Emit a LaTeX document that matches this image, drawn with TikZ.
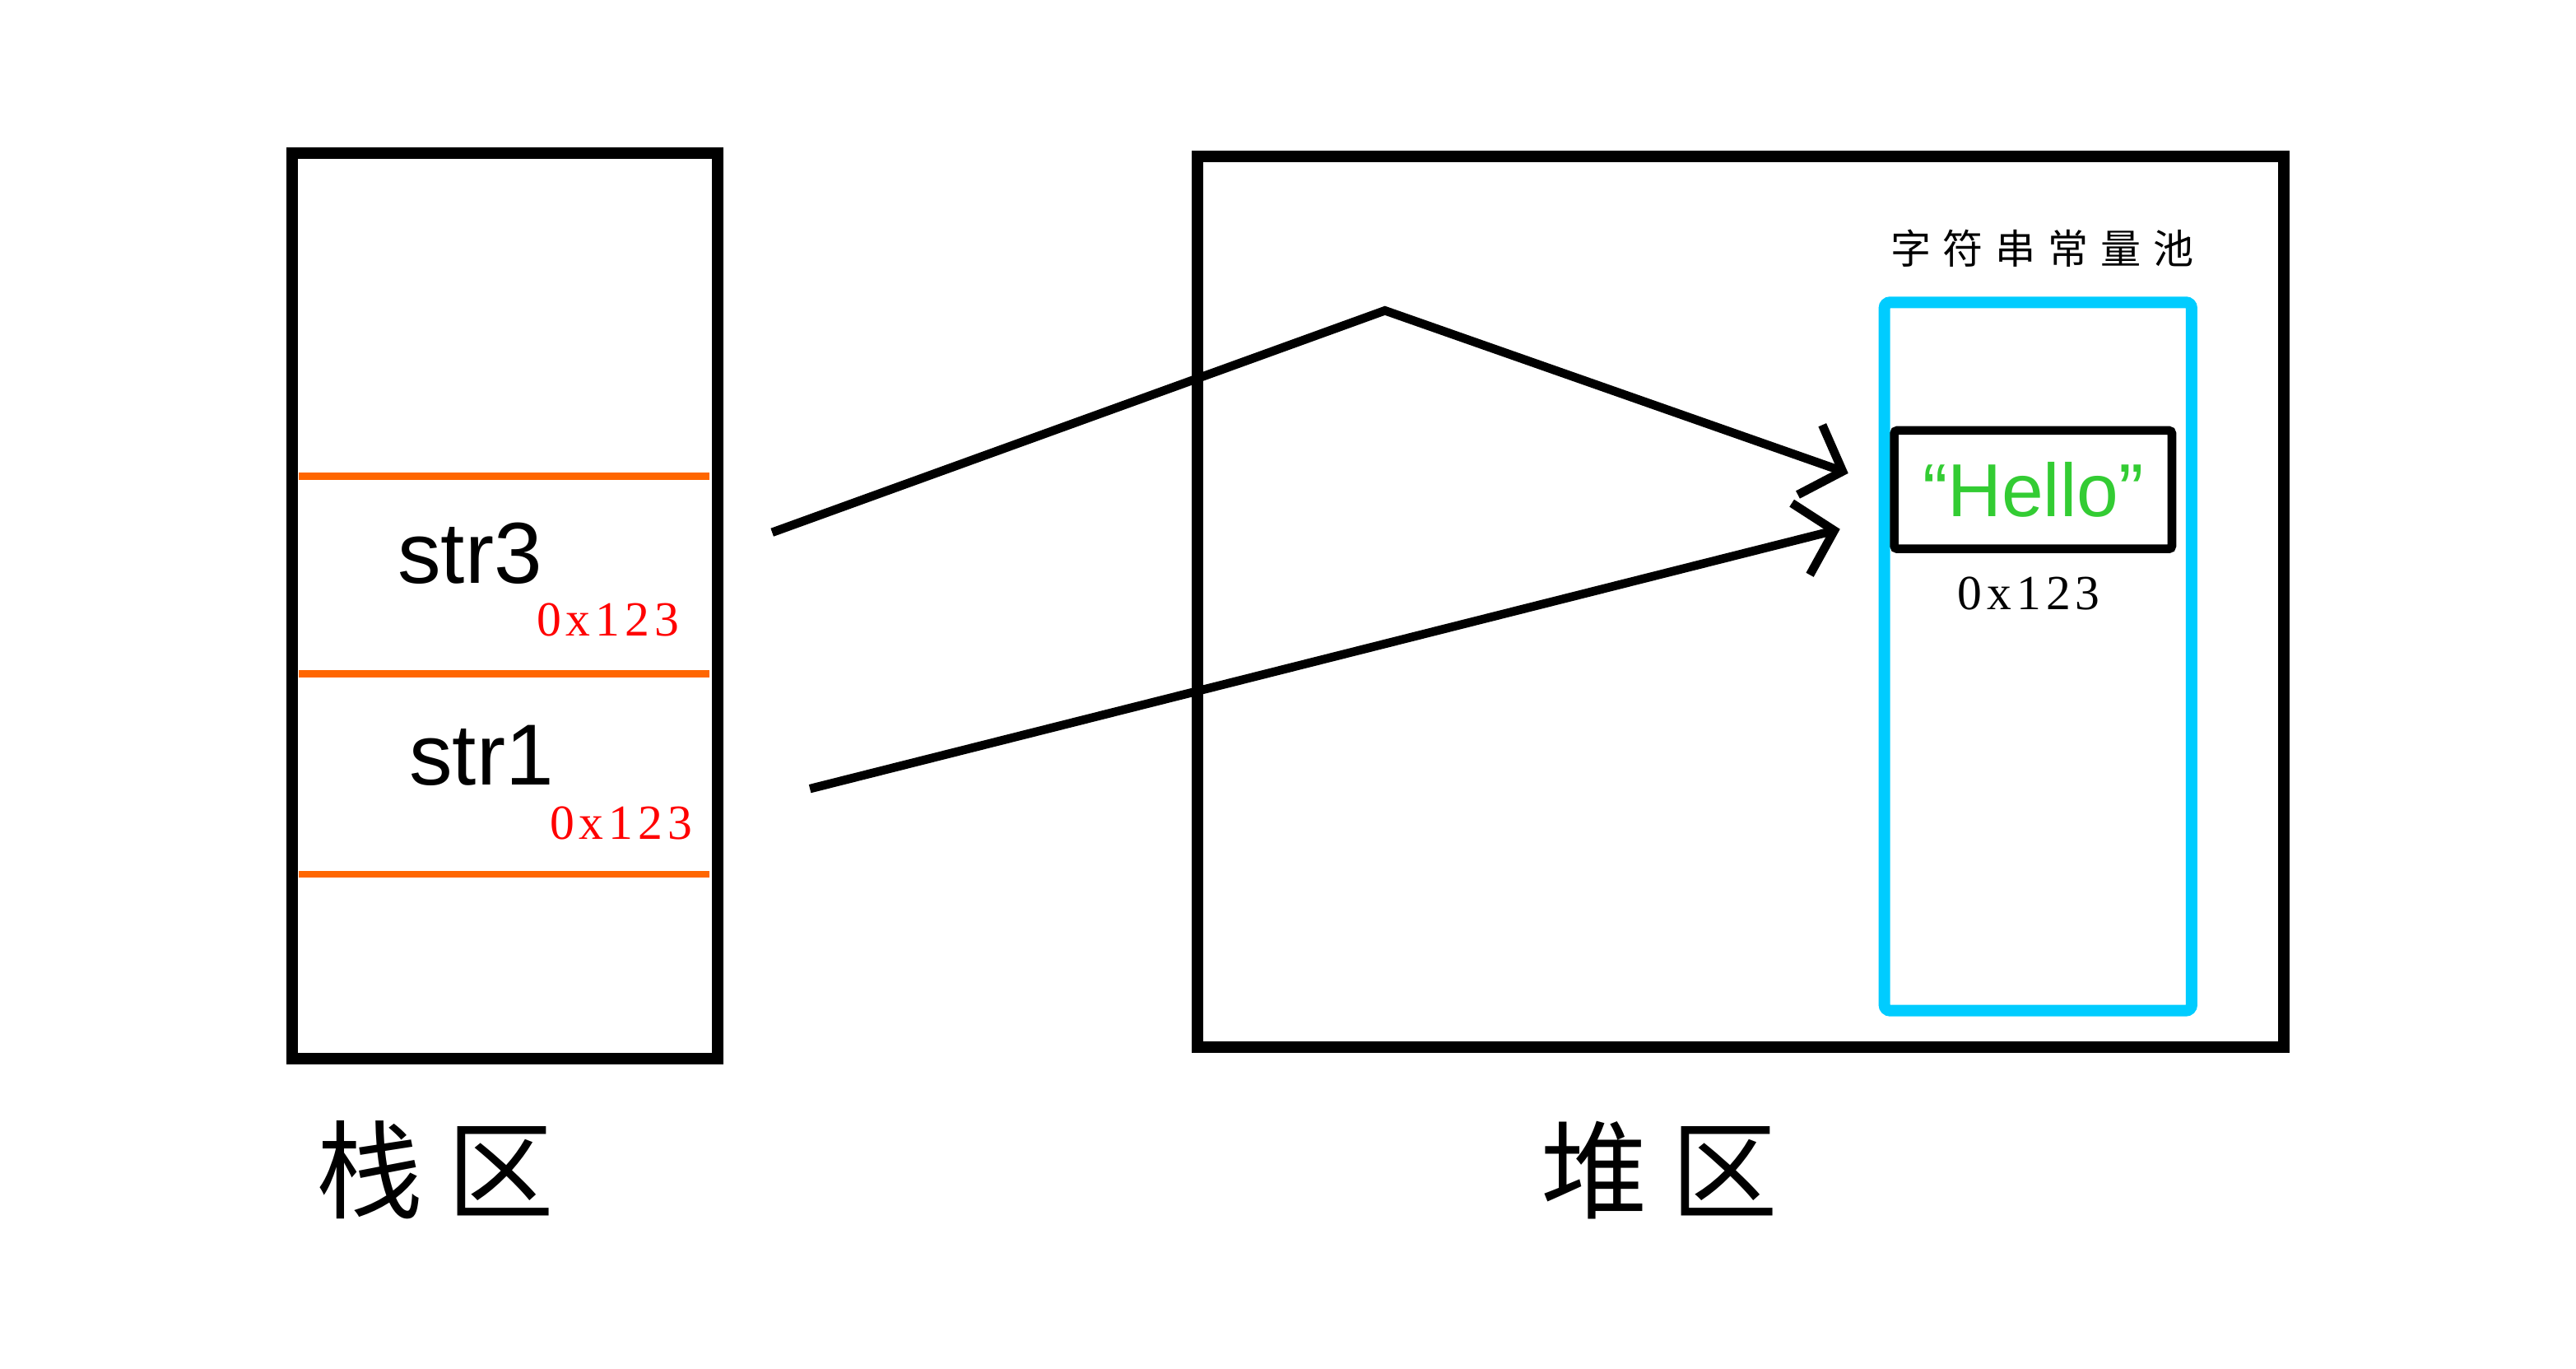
\documentclass[tikz,border=0pt]{standalone}
\usepackage{fontspec}
\setmainfont{Liberation Sans}
\newfontfamily\cjk[LetterSpace=30]{Noto Sans CJK SC}
\newfontfamily\cjkzone[LetterSpace=22]{Noto Sans CJK SC}
\newfontfamily\addrfont[LetterSpace=10]{Liberation Serif}
\usetikzlibrary{arrows.meta}
\definecolor{sepcolor}{HTML}{FF6600}
\definecolor{poolblue}{HTML}{00CCFF}
\definecolor{hellogreen}{HTML}{33CC33}
\tikzset{
  region/.style={draw=black, line width=4pt, minimum width=#1},
  varname/.style={font=\fontsize{30}{34}\selectfont},
  addr/.style={font=\addrfont\fontsize{17}{20}\selectfont},
  zone/.style={font=\cjkzone\fontsize{37}{40}\selectfont},
  ptr/.style={line width=3pt, -{Straight Barb[length=0.42cm, width=0.9cm, line width=3pt]}}
}

\begin{document}
\begin{tikzpicture}
			\useasboundingbox (0,0) rectangle (31.36,16.66);
			% stack
			\node[region=5.18cm, minimum height=11.02cm](stack) at (6.15,9.29){};
			\foreach \y in {10.86,8.46,6.02}
				\draw[sepcolor, line width=2.5pt] (3.64,\y) -- (8.64,\y);
			\node[varname](str3) at (5.72,9.92){str3};
			\node[addr, text=red](addr3) at (7.4,9.12){0x123};
			\node[varname](str1) at (5.86,7.46){str1};
			\node[addr, text=red](addr1) at (7.56,6.64){0x123};
			\node[zone](stacklabel) at (5.3,2.42){栈区};
			% heap
			\node[region=13.22cm, minimum height=10.84cm](heap) at (21.19,9.34){};
			\node[draw=poolblue, line width=4pt, rounded corners=2pt, minimum width=3.74cm, minimum height=8.62cm](pool) at (24.81,8.67){};
			\node[font=\cjk\fontsize{14}{16}\selectfont](poollabel) at (24.86,13.64){字符串常量池};
			\node[draw=black, line width=3pt, rounded corners=1pt, minimum width=3.38cm, minimum height=1.44cm, text=hellogreen, font=\fontsize{26}{30}\selectfont](hello) at (24.75,10.7){“Hello”};
			\node[addr](addrpool) at (24.7,9.44){0x123};
			\node[zone](heaplabel) at (20.2,2.42){堆区};
			% pointers
			\coordinate (p3) at (9.4,10.18);
			\coordinate (bend) at (16.86,12.88);
			\coordinate (t3) at (22.5,10.9);
			\coordinate (p1) at (9.86,7.06);
			\coordinate (t1) at (22.4,10.22);
			\draw[ptr] (p3) -- (bend) -- (t3);
			\draw[ptr] (p1) -- (t1);
			\end{tikzpicture}
\end{document}
